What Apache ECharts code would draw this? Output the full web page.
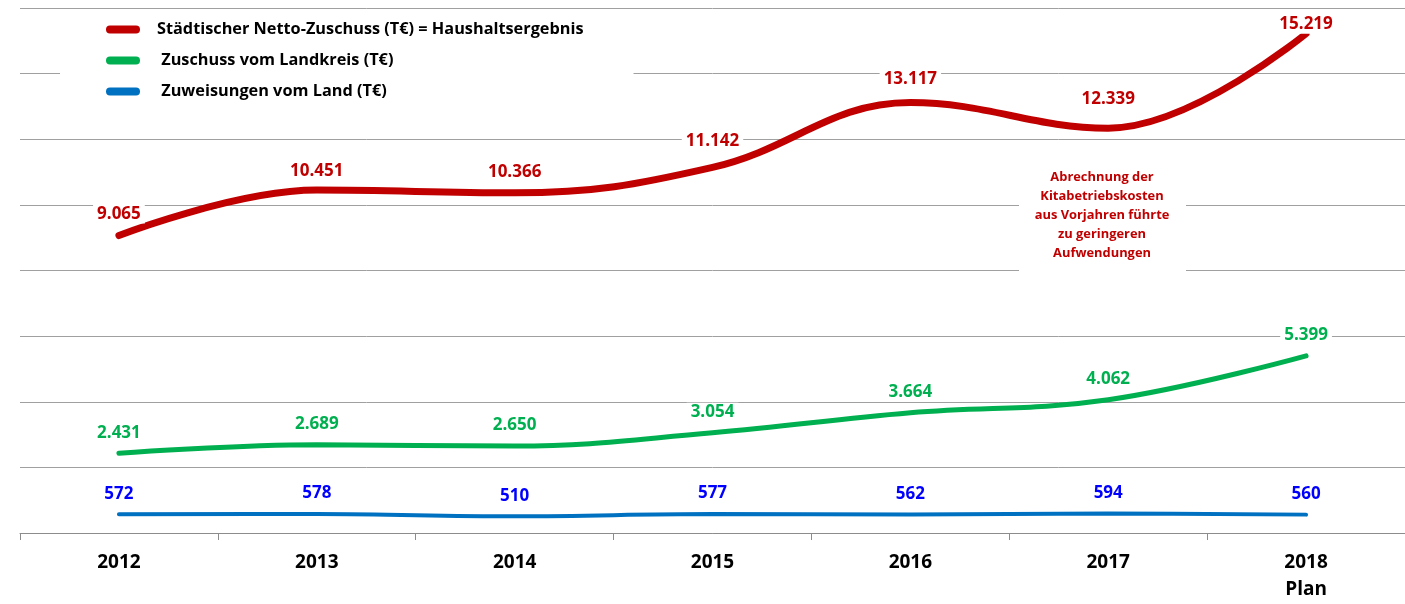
<!DOCTYPE html>
<html lang="de">
<head>
    <meta charset="UTF-8">
    <title>Netto-Zuschuss</title>
    <style>
        * { padding: 0; margin: 0; box-sizing: border-box; }
        html, body { width: 100%; height: 100%; overflow: hidden; background: #fff; }
        #box { width: 1405px; height: 604px; }
    </style>
</head>
<body>
    <div id="box"></div>
<script src="https://cdn.jsdelivr.net/npm/echarts@6/dist/echarts.min.js"></script>
<script>
    var years = ['2012', '2013', '2014', '2015', '2016', '2017', '2018\nPlan'];
    var nettoZuschuss = [9065, 10451, 10366, 11142, 13117, 12339, 15219];
    var landkreis = [2431, 2689, 2650, 3054, 3664, 4062, 5399];
    var land = [572, 578, 510, 577, 562, 594, 560];
    var names = [
        'Städtischer Netto-Zuschuss (T€) = Haushaltsergebnis',
        ' Zuschuss vom Landkreis (T€)',
        ' Zuweisungen vom Land (T€)'
    ];
    var noteLines = ['Abrechnung der', 'Kitabetriebskosten', 'aus Vorjahren führte', 'zu geringeren', 'Aufwendungen'];

    var FONT = '"Open Sans", "DejaVu Sans", sans-serif';

    // labels of the red line were placed by hand in the original
    var redLabelGap = [12, 9.5, 11.5, 16.5, 13.5, 19.5, 0];

    // 12339 -> "12.339"
    function de(v) {
        return String(v).replace(/\B(?=(\d{3})+(?!\d))/g, '.');
    }

    function lineSeries(name, data, color, labelColor, width, dist) {
        return {
            name: name,
            type: 'line',
            data: data,
            smooth: 0.4,
            symbol: 'circle',
            symbolSize: 0,
            showSymbol: true,
            lineStyle: { color: color, width: width, cap: 'round' },
            itemStyle: { color: color },
            label: {
                show: true,
                position: 'top',
                distance: dist,
                color: labelColor,
                fontFamily: FONT,
                fontWeight: 'bold',
                fontSize: 17,
                backgroundColor: '#fff',
                padding: [1, 4],
                formatter: function (p) { return de(p.value); }
            },
            z: 3
        };
    }

    var redSeries = lineSeries(names[0], nettoZuschuss.map(function (v, i) {
        return { value: v, label: { distance: redLabelGap[i] } };
    }), '#C00000', '#C00000', 7, 12);

    var pill = 'path://M4,0 H30 A4,4 0 0 1 30,8 H4 A4,4 0 0 1 4,0 Z';

    var chart = echarts.init(document.getElementById('box'));
    var option = {
        animation: false,
        grid: { left: 20, top: 8, width: 1388, bottom: 71, containLabel: false },
        legend: {
            orient: 'vertical',
            left: 60,
            top: 12,
            padding: [8, 50, 10, 46],
            backgroundColor: '#fff',
            itemWidth: 34,
            itemHeight: 8,
            itemGap: 12,
            data: [
                { name: names[0], icon: pill },
                { name: names[1], icon: pill },
                { name: names[2], icon: pill }
            ],
            textStyle: {
                fontFamily: FONT,
                fontWeight: 'bold',
                fontSize: 16.3,
                color: '#000',
                lineHeight: 19,
                padding: [0, 0, 0, 12]
            },
            z: 5
        },
        xAxis: {
            type: 'category',
            data: years,
            boundaryGap: true,
            axisLine: { lineStyle: { color: '#8c8c8c', width: 1 } },
            axisTick: { show: true, length: 7, lineStyle: { color: '#8c8c8c' } },
            axisLabel: {
                color: '#000',
                fontFamily: FONT,
                fontWeight: 'bold',
                fontSize: 19,
                lineHeight: 27,
                margin: 16
            }
        },
        yAxis: {
            type: 'value',
            min: 0,
            max: 16000,
            interval: 2000,
            axisLine: { show: false },
            axisTick: { show: false },
            axisLabel: { show: false },
            splitLine: { lineStyle: { color: '#a0a0a0', width: 1 } }
        },
        graphic: [
            {
                type: 'rect',
                shape: { x: 1019, y: 152, width: 167, height: 121 },
                style: { fill: '#fff' },
                z: 1
            },
            {
                type: 'text',
                x: 1102,
                y: 168,
                style: {
                    text: noteLines.join('\n'),
                    align: 'center',
                    verticalAlign: 'top',
                    fontFamily: FONT,
                    fontWeight: 'bold',
                    fontSize: 12.9,
                    lineHeight: 19,
                    fill: '#C00000'
                },
                z: 2
            }
        ],
        series: [
            redSeries,
            lineSeries(names[1], landkreis, '#00B050', '#00B050', 5, 11),
            lineSeries(names[2], land, '#0070C0', '#0000FF', 4, 11)
        ]
    };
    chart.setOption(option);
</script>
</body>
</html>
